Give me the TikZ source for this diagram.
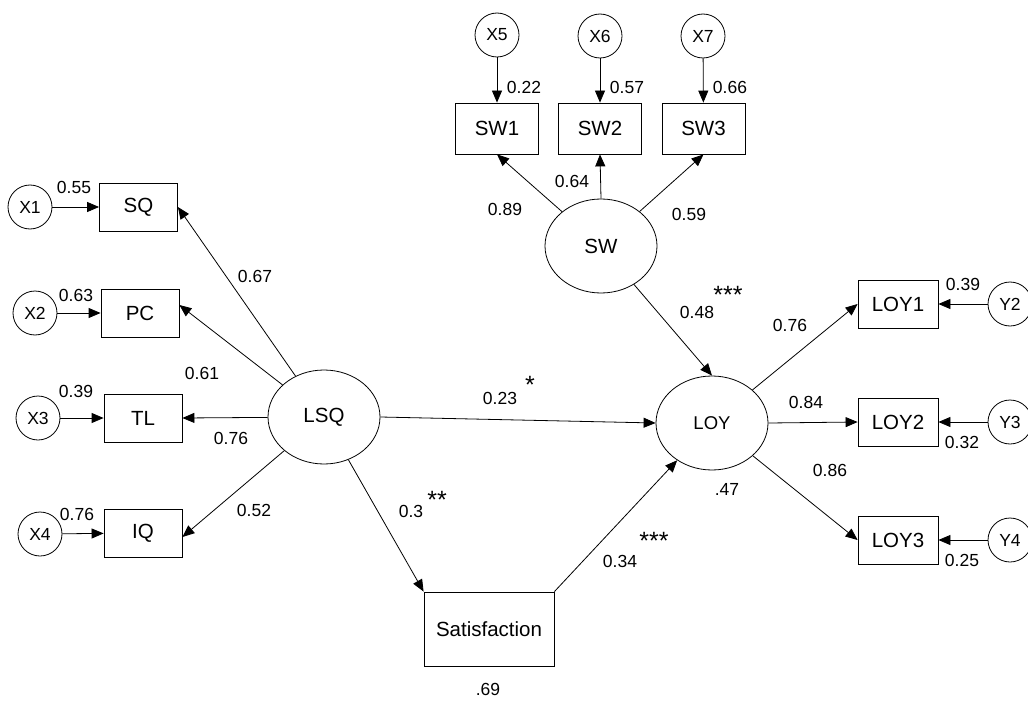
\documentclass[tikz,border=0pt]{standalone}
\usepackage{fontspec}
\setmainfont{Liberation Sans}
\usetikzlibrary{shapes.geometric,arrows.meta}
\begin{document}
\begin{tikzpicture}[x=1pt,y=-1pt,
  every node/.style={font=\fontsize{17.5}{20}\selectfont},
  obs/.style={draw, rectangle, line width=0.8pt, inner sep=0pt, font=\fontsize{20.5}{24}\selectfont},
  sqbox/.style={obs, minimum width=78pt, minimum height=48pt},
  swbox/.style={obs, minimum width=83pt, minimum height=51pt},
  loybox/.style={obs, minimum width=80pt, minimum height=48pt},
  lat/.style={draw, ellipse, line width=0.8pt, minimum width=112pt, minimum height=94pt, inner sep=0pt, font=\fontsize{20.5}{24}\selectfont},
  err/.style={draw, circle, line width=0.8pt, minimum size=44pt, inner sep=0pt},
  num/.style={inner sep=0pt},
  star/.style={inner sep=0pt, font=\fontsize{25}{28}\selectfont},
  arr/.style={-{Triangle[length=12pt,width=10pt]}, line width=0.8pt}
]
\useasboundingbox (0,0) rectangle (1028,706);

% left measurement model
\node[err] (X1) at (30,207) {X1};
\node[err] (X2) at (35,313) {X2};
\node[err] (X3) at (38,418) {X3};
\node[err] (X4) at (40,534) {X4};
\node[sqbox] (SQ) at (138.5,207) {SQ};
\node[sqbox] (PC) at (140,313) {PC};
\node[sqbox] (TL) at (143,418) {TL};
\node[sqbox] (IQ) at (143,533) {IQ};

% latents
\node[lat] (LSQ) at (324,417) {LSQ};
\node[lat] (SW) at (601,246) {SW};
\node[lat, font=\fontsize{18.5}{22}\selectfont] (LOY) at (712,423) {LOY};
\node[obs, minimum width=130pt, minimum height=74pt] (Sat) at (489,629) {Satisfaction};

% SW indicators
\node[swbox] (SW1) at (497,128.5) {SW1};
\node[swbox] (SW2) at (600,128.5) {SW2};
\node[swbox] (SW3) at (703.5,128.5) {SW3};
\node[err] (X5) at (497,35) {X5};
\node[err] (X6) at (600,36) {X6};
\node[err] (X7) at (703,36) {X7};

% LOY indicators
\node[loybox] (LOY1) at (898,304) {LOY1};
\node[loybox] (LOY2) at (898,422) {LOY2};
\node[loybox] (LOY3) at (898,540) {LOY3};
\node[err] (Y2) at (1010,304) {Y2};
\node[err] (Y3) at (1010,422) {Y3};
\node[err] (Y4) at (1010,540) {Y4};

% connectors
\draw[arr] (X1) -- (SQ);
\draw[arr] (X2) -- (PC);
\draw[arr] (X3) -- (TL);
\draw[arr] (X4) -- (IQ);
\draw[arr] (LSQ) -- (SQ.east);
\draw[arr] (LSQ) -- ([yshift=8pt]PC.east);
\draw[arr] (LSQ) -- (TL.east);
\draw[arr] (LSQ) -- ([yshift=-4pt]IQ.east);
\draw[arr] (LSQ.east) -- (LOY.west);
\draw[arr] (LSQ) -- (Sat.north west);
\draw[arr] (Sat.north east) -- (LOY);
\draw[arr] (SW) -- (LOY.north);
\draw[arr] (SW) -- (SW1.south);
\draw[arr] (SW.north) -- (SW2.south);
\draw[arr] (SW) -- (SW3.south);
\draw[arr] (X5) -- (SW1);
\draw[arr] (X6) -- (SW2);
\draw[arr] (X7) -- (SW3);
\draw[arr] (LOY) -- (LOY1.west);
\draw[arr] (LOY.east) -- (LOY2.west);
\draw[arr] (LOY) -- (LOY3.west);
\draw[arr] (Y2) -- (LOY1);
\draw[arr] (Y3) -- (LOY2);
\draw[arr] (Y4) -- (LOY3);

% labels
\node[num] (n1) at (74,187) {0.55};
\node[num] (n2) at (76,295) {0.63};
\node[num] (n3) at (76,391) {0.39};
\node[num] (n4) at (77,514) {0.76};
\node[num] (n5) at (255,276) {0.67};
\node[num] (n6) at (202,373) {0.61};
\node[num] (n7) at (231,438) {0.76};
\node[num] (n8) at (254,510) {0.52};
\node[num] (n9) at (505,209) {0.89};
\node[num] (n10) at (572,181) {0.64};
\node[num] (n11) at (689,214) {0.59};
\node[num] (n12) at (524,87) {0.22};
\node[num] (n13) at (627,87) {0.57};
\node[num] (n14) at (730,87) {0.66};
\node[num] (n15) at (697,312) {0.48};
\node[star] (s15) at (728,295) {***};
\node[num] (n16) at (790,325) {0.76};
\node[num] (n17) at (806,402) {0.84};
\node[num] (n18) at (830,470) {0.86};
\node[num] (n19) at (727,489) {.47};
\node[num] (n20) at (963,284) {0.39};
\node[num] (n21) at (962,442) {0.32};
\node[num] (n22) at (962,560) {0.25};
\node[num] (n23) at (620,561) {0.34};
\node[star] (s23) at (654,541) {***};
\node[num] (n24) at (500,398) {0.23};
\node[star] (s24) at (530,385) {*};
\node[num] (n25) at (411,511) {0.3};
\node[star] (s25) at (437,500) {**};
\node[num] (n26) at (488,689) {.69};
\end{tikzpicture}
\end{document}
